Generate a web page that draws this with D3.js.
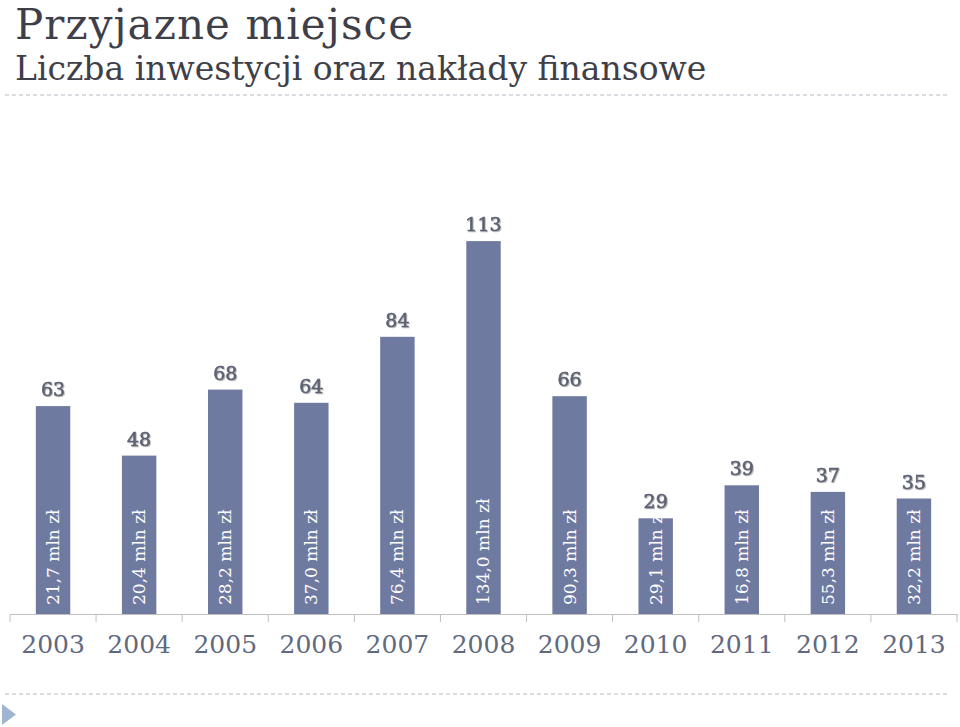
<!DOCTYPE html>
<html>
<head>
<meta charset="UTF-8">
<title>Przyjazne miejsce</title>
<script src="https://d3js.org/d3.v7.min.js"></script>
<style>
  body { margin: 0; background: #fff; }
  svg { display: block; }
</style>
</head>
<body>
<div id="chart"></div>
<script>
// data
var years = ["2003", "2004", "2005", "2006", "2007", "2008", "2009", "2010", "2011", "2012", "2013"];
var investments = [63, 48, 68, 64, 84, 113, 66, 29, 39, 37, 35];
var spending = ["21,7 mln zł", "20,4 mln zł", "28,2 mln zł", "37,0 mln zł", "76,4 mln zł",
  "134,0 mln zł", "90,3 mln zł", "29,1 mln zł", "16,8 mln zł", "55,3 mln zł", "32,2 mln zł"];

var W = 960, H = 727;
var serif = "'DejaVu Serif', serif";

var svg = d3.select("#chart").append("svg")
  .attr("width", W)
  .attr("height", H);

var defs = svg.append("defs");
defs.append("filter").attr("id", "shadow")
  .attr("x", "-20%").attr("y", "-20%").attr("width", "140%").attr("height", "140%")
  .append("feDropShadow")
  .attr("dx", 1).attr("dy", 1).attr("stdDeviation", 0.6)
  .attr("flood-color", "#a0a0a0").attr("flood-opacity", 0.7);

// titles
svg.append("text")
  .attr("x", 15).attr("y", 39)
  .style("font-family", serif).style("font-size", "42px")
  .attr("fill", "#3f3f4a")
  .attr("textLength", 398)
  .text("Przyjazne miejsce");

svg.append("text")
  .attr("x", 15).attr("y", 80)
  .style("font-family", serif).style("font-size", "33px")
  .attr("fill", "#3f3f4a")
  .text("Liczba inwestycji oraz nakłady finansowe");

// dashed separators
[95, 694].forEach(function (yy) {
  svg.append("line")
    .attr("x1", 5).attr("x2", 950)
    .attr("y1", yy).attr("y2", yy)
    .attr("stroke", "#b4bcc4")
    .attr("stroke-width", 1)
    .attr("stroke-dasharray", "4,3");
});

// little bullet triangle bottom left
svg.append("path")
  .attr("d", "M2,704 L16,714.5 L2,725 Z")
  .attr("fill", "#9fb5d1");

var x = d3.scaleBand()
  .domain(years)
  .range([10, 957])
  .paddingInner(0.6)
  .paddingOuter(0.3);

var y = d3.scaleLinear()
  .domain([0, 120])
  .range([614, 218]);

// axis
var axis = svg.append("g")
  .attr("transform", "translate(0," + y(0) + ")")
  .call(d3.axisBottom(x).tickSize(0).tickPadding(21));

axis.select(".domain").attr("stroke", "#bfbfbf");
axis.selectAll(".tick text")
  .style("font-family", serif).style("font-size", "25px")
  .attr("fill", "#62697f");

// boundary ticks between categories
var step = x.step();
var bounds = years.map(function (d) { return x(d) - step * x.paddingInner() / 2; });
bounds.push(x(years[years.length - 1]) + x.bandwidth() + step * x.paddingInner() / 2);
axis.selectAll("line.sep")
  .data(bounds)
  .join("line")
  .attr("class", "sep")
  .attr("x1", function (d) { return d; })
  .attr("x2", function (d) { return d; })
  .attr("y1", 0).attr("y2", 8)
  .attr("stroke", "#bfbfbf");

var rows = years.map(function (d, i) {
  return { year: d, count: investments[i], money: spending[i] };
});

// bars
svg.selectAll("rect.bar")
  .data(rows)
  .join("rect")
  .attr("class", "bar")
  .attr("x", function (d) { return x(d.year); })
  .attr("y", function (d) { return y(d.count); })
  .attr("width", x.bandwidth())
  .attr("height", function (d) { return y(0) - y(d.count); })
  .attr("fill", "#6f7aa1");

// counts above bars
svg.selectAll("text.count")
  .data(rows)
  .join("text")
  .attr("class", "count")
  .attr("x", function (d) { return x(d.year) + x.bandwidth() / 2; })
  .attr("y", function (d) { return y(d.count) - 10; })
  .attr("text-anchor", "middle")
  .attr("filter", "url(#shadow)")
  .style("font-family", serif).style("font-size", "19px")
  .attr("fill", "#5c6174")
  .attr("stroke", "#5c6174")
  .attr("stroke-width", 0.6)
  .text(function (d) { return d.count; });

// spending rotated inside bars
svg.selectAll("text.money")
  .data(rows)
  .join("text")
  .attr("class", "money")
  .attr("transform", function (d) {
    return "translate(" + (x(d.year) + x.bandwidth() / 2) + "," + (y(0) - 9) + ") rotate(-90)";
  })
  .attr("dy", "0.35em")
  .style("font-family", serif).style("font-size", "17px")
  .attr("fill", "#ffffff")
  .text(function (d) { return d.money; });
</script>
</body>
</html>
